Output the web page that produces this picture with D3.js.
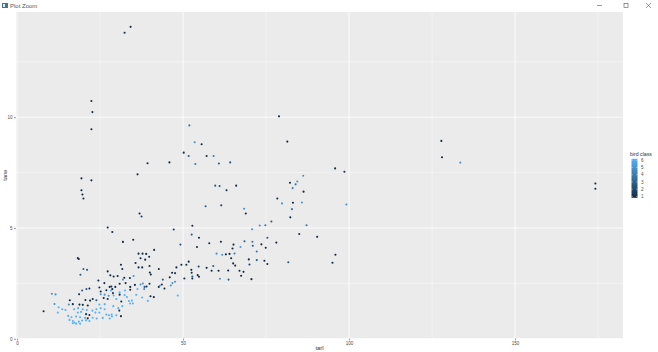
<!DOCTYPE html>
<html>
<head>
<meta charset="utf-8">
<script src="https://cdn.jsdelivr.net/npm/d3@7"></script>
<style>
  body { margin: 0; background: #fff; }
  text { font-family: "Liberation Sans", Arial, sans-serif; }
</style>
</head>
<body>
<script>
// tarsus length / width per bird, plus its class
const tarl = [
  32.4,34.2,51.9,78.9,127.8,128.0,133.5,174.2,174.2,22.4,22.7,22.4,19.4,19.4,19.7,20.0,22.4,
  53.5,55.6,81.4,50.2,51.7,57.1,59.2,45.9,53.7,60.8,
  64.2,95.8,98.6,86.2,82.2,84.4,83.9,83.0,86.3,59.7,
  61.0,66.0,63.1,78.4,79.8,83.1,85.8,99.2,56.8,61.5,
  68.4,82.8,68.9,82.3,76.6,73.1,74.8,87.2,52.8,47.2,
  70.8,85.0,52.6,54.8,90.4,75.4,61.4,68.5,70.9,57.9,
  78.1,65.2,73.6,71.0,49.2,54.2,74.9,64.9,41.3,67.3,
  72.2,60.1,61.8,62.9,64.0,65.5,95.9,64.5,69.8,72.2,
  74.5,51.7,95.0,81.7,65.1,75.4,49.5,51.0,70.0,65.7,
  48.0,42.7,59.1,54.7,57.1,
  58.6,60.7,63.6,67.0,68.2,52.5,52.6,54.4,54.8,52.8,
  67.5,61.1,63.7,70.6,
  28.7,27.3,31.9,35.0,36.6,37.8,38.9,37.2,39.8,35.7,
  31.3,36.6,37.7,31.7,40.0,40.3,46.7,47.6,29.1,30.3,
  32.3,31.9,34.0,35.1,46.0,43.9,50.4,52.8,27.9,29.6,
  30.9,32.7,34.1,35.5,37.2,37.9,38.4,39.9,39.0,34.1,
  32.5,30.9,36.3,38.3,42.7,43.6,44.4,43.0,46.8,47.6,
  46.3,48.4,28.3,29.1,30.9,32.4,33.1,35.9,37.7,39.4,
  40.2,41.2,29.9,31.4,33.7,34.6,34.1,34.9,29.0,31.7,
  30.5,30.8,28.5,29.9,31.3,27.9,
  18.3,18.6,20.0,21.1,19.1,27.3,28.1,24.5,26.3,28.4,
  28.7,21.8,20.9,19.6,24.8,25.2,26.9,25.2,26.4,27.6,
  28.9,10.5,11.6,18.7,15.9,20.6,22.0,22.8,23.9,26.1,
  27.3,11.3,15.6,16.8,18.8,19.8,21.3,24.8,26.4,12.5,
  13.6,14.6,17.2,18.4,19.8,21.0,22.7,23.9,25.2,26.4,
  8.0,12.3,18.3,19.3,20.8,21.8,23.6,24.8,26.9,27.7,
  15.4,16.4,17.8,19.0,20.5,21.3,22.8,24.0,25.8,28.6,
  15.8,16.8,17.3,18.6,19.6,20.8,21.8,17.8,16.8,19.0,
  39.3,36.3,36.9,37.5,38.6,39.9
]
const tarw = [
  13.81,14.08,9.63,10.04,8.93,8.19,7.95,7.01,6.77,10.73,10.23,9.46,7.24,6.70,6.51,6.33,7.15,
  8.87,8.78,8.90,8.40,8.25,8.25,8.25,7.96,7.89,7.91,
  7.96,7.69,7.54,7.36,7.04,7.10,6.97,6.80,6.64,6.91,
  6.89,6.91,6.70,6.33,6.11,6.14,6.15,6.06,5.98,6.02,
  5.87,5.85,5.65,5.48,5.29,5.11,5.12,5.12,5.10,4.93,
  4.94,4.73,4.70,4.56,4.60,4.56,4.38,4.40,4.38,4.31,
  4.34,4.25,4.26,4.20,4.25,4.14,4.11,4.07,4.01,4.14,
  3.94,3.84,3.79,3.81,3.83,3.85,3.79,3.63,3.58,3.55,
  3.52,3.48,3.43,3.45,3.40,3.37,3.34,3.34,3.35,3.30,
  3.22,3.15,3.28,3.26,3.20,
  3.07,3.07,3.08,3.07,3.02,3.11,2.98,2.87,2.80,2.81,
  2.84,2.71,2.67,2.69,
  4.82,5.02,4.37,4.47,3.84,3.84,3.83,3.63,3.70,3.42,
  3.34,3.22,3.22,3.15,2.99,2.90,2.98,2.96,2.81,2.83,
  2.75,2.67,2.74,2.83,2.77,2.67,2.72,2.72,2.34,2.34,
  2.48,2.51,2.34,2.43,2.45,2.49,2.34,2.48,2.36,2.21,
  2.18,2.10,2.24,2.24,2.34,2.45,2.27,2.39,2.51,2.57,
  2.40,1.95,2.18,1.95,1.99,1.97,1.88,1.98,1.86,1.71,
  1.92,1.88,1.79,1.68,1.70,1.72,1.59,1.59,1.47,1.47,
  1.38,1.27,1.09,1.06,1.02,0.91,
  3.64,3.60,3.15,3.11,2.89,3.04,2.86,2.63,2.51,2.36,
  2.24,2.27,2.24,2.18,2.31,2.13,2.19,2.01,1.99,1.94,
  2.06,2.03,2.00,2.01,1.74,1.75,1.72,1.79,1.74,1.84,
  1.79,1.57,1.54,1.56,1.54,1.53,1.50,1.54,1.56,1.42,
  1.33,1.30,1.33,1.38,1.33,1.30,1.27,1.33,1.38,1.33,
  1.24,1.18,1.18,1.21,1.11,1.07,1.18,1.18,1.09,1.06,
  1.03,0.97,1.00,0.97,0.94,0.92,0.95,0.91,0.94,1.00,
  0.85,0.80,0.73,0.77,0.82,0.83,0.80,0.68,0.70,0.68,
  7.92,7.42,5.65,5.52,3.57,3.28
]
const birdClass = [
  1,1,4,1,1,1,5,1,1,1,1,1,1,1,1,1,1,
  5,1,1,1,3,1,4,1,4,3,
  3,1,1,5,1,5,4,4,1,3,
  3,1,1,1,5,1,5,5,3,2,
  5,4,1,1,3,5,4,4,1,2,
  5,1,3,1,1,3,1,3,4,1,
  1,1,1,3,3,1,1,1,1,5,
  4,5,5,1,1,4,1,1,1,3,
  1,1,1,3,1,1,1,1,2,1,
  1,1,3,2,1,
  1,1,1,1,1,1,1,1,1,3,
  1,5,3,1,
  1,1,1,1,1,1,1,1,1,1,
  1,1,1,1,1,1,1,2,1,1,
  1,5,1,5,1,3,1,1,1,1,
  1,1,1,1,5,5,3,1,1,1,
  6,6,6,5,1,1,1,5,5,5,
  5,6,6,6,1,6,6,6,6,6,
  1,1,6,1,6,6,6,6,6,6,
  6,1,6,6,1,6,
  1,1,3,3,3,1,1,1,1,1,
  1,1,3,3,1,1,1,5,5,5,
  1,5,5,1,1,1,1,1,3,1,
  1,5,5,1,1,1,1,6,6,6,
  6,6,6,6,6,6,6,6,6,6,
  1,6,6,6,1,1,6,6,6,6,
  6,6,6,6,6,1,6,6,6,6,
  6,6,6,6,6,6,6,6,6,6,
  1,1,1,2,1,1
]
const xTicks = [0, 50, 100, 150]
const xMinor = [25, 75, 125, 175]
const yTicks = [0, 5, 10]
const yMinor = [2.5, 7.5, 12.5]
const classTicks = [1, 2, 3, 4, 5, 6]

const width = 658
const height = 352
const panel = {left: 16, right: 623, top: 12, bottom: 338.5}

const svg = d3.select('body').append('svg')
  .attr('width', width)
  .attr('height', height)

// window title bar (RStudio plot zoom)
const bar = svg.append('g')
bar.append('rect').attr('x', 2).attr('y', 3).attr('width', 6).attr('height', 5)
  .attr('fill', '#3b7a8c')
bar.append('rect').attr('x', 3).attr('y', 4).attr('width', 2).attr('height', 3)
  .attr('fill', '#e8e8e8')
bar.append('text').attr('x', 10).attr('y', 8).attr('font-size', 6)
  .attr('fill', '#555').text('Plot Zoom')
bar.append('line').attr('x1', 597).attr('x2', 602).attr('y1', 5.5).attr('y2', 5.5)
  .attr('stroke', '#555').attr('stroke-width', 0.6)
bar.append('rect').attr('x', 624).attr('y', 3.5).attr('width', 4).attr('height', 4)
  .attr('fill', 'none').attr('stroke', '#555').attr('stroke-width', 0.6)
bar.append('path').attr('d', 'M646,3 L651,8 M651,3 L646,8')
  .attr('stroke', '#555').attr('stroke-width', 0.6)

// scales with ggplot's 5% expansion
const pad = (ext) => { const r = ext[1] - ext[0]; return [ext[0] - r * 0.05, ext[1] + r * 0.05] }
const xscale = d3.scaleLinear().domain(pad(d3.extent(tarl))).range([panel.left, panel.right])
const yscale = d3.scaleLinear().domain(pad(d3.extent(tarw))).range([panel.bottom, panel.top])
const colour = d3.scaleLinear().domain([1, 6]).range(['#132B43', '#56B1F7'])
  .interpolate(d3.interpolateLab)

// panel and grid
svg.append('rect')
  .attr('x', panel.left).attr('y', panel.top)
  .attr('width', panel.right - panel.left).attr('height', panel.bottom - panel.top)
  .attr('fill', '#EBEBEB')

const grid = svg.append('g').attr('stroke', '#fff')
grid.selectAll('.xm').data(xMinor.filter(d => xscale(d) < panel.right)).join('line')
  .attr('x1', d => xscale(d)).attr('x2', d => xscale(d))
  .attr('y1', panel.top).attr('y2', panel.bottom).attr('stroke-width', 0.4)
grid.selectAll('.ym').data(yMinor).join('line')
  .attr('y1', d => yscale(d)).attr('y2', d => yscale(d))
  .attr('x1', panel.left).attr('x2', panel.right).attr('stroke-width', 0.4)
grid.selectAll('.xM').data(xTicks).join('line')
  .attr('x1', d => xscale(d)).attr('x2', d => xscale(d))
  .attr('y1', panel.top).attr('y2', panel.bottom).attr('stroke-width', 0.8)
grid.selectAll('.yM').data(yTicks).join('line')
  .attr('y1', d => yscale(d)).attr('y2', d => yscale(d))
  .attr('x1', panel.left).attr('x2', panel.right).attr('stroke-width', 0.8)

// axes
const styleAxis = (g) => {
  g.select('.domain').remove()
  g.selectAll('.tick line').attr('stroke', '#333').attr('stroke-width', 0.5)
  g.selectAll('.tick text').attr('fill', '#4D4D4D').attr('font-size', 4.6)
    .attr('font-family', '"Liberation Sans", Arial, sans-serif')
}
svg.append('g').attr('transform', `translate(0,${panel.bottom})`)
  .call(d3.axisBottom(xscale).tickValues(xTicks).tickSize(2).tickPadding(1.5))
  .call(styleAxis)
svg.append('g').attr('transform', `translate(${panel.left},0)`)
  .call(d3.axisLeft(yscale).tickValues(yTicks).tickSize(2).tickPadding(1.5))
  .call(styleAxis)

svg.append('text').attr('x', (panel.left + panel.right) / 2).attr('y', 350)
  .attr('text-anchor', 'middle').attr('font-size', 5.8).attr('fill', '#333').text('tarl')
svg.append('text').attr('transform', `translate(7,${(panel.top + panel.bottom) / 2}) rotate(-90)`)
  .attr('text-anchor', 'middle').attr('font-size', 5.8).attr('fill', '#333').text('tarw')

// points
svg.append('g').selectAll('circle').data(d3.range(tarl.length)).join('circle')
  .attr('cx', i => xscale(tarl[i]))
  .attr('cy', i => yscale(tarw[i]))
  .attr('r', 1.05)
  .attr('fill', i => colour(birdClass[i]))

// colourbar legend
const legY = d3.scaleLinear().domain([1, 6]).range([196.5, 160.2])
const grad = svg.append('defs').append('linearGradient').attr('id', 'cbar')
  .attr('x1', 0).attr('x2', 0).attr('y1', 1).attr('y2', 0)
grad.selectAll('stop').data([1, 6]).join('stop')
  .attr('offset', (d, i) => i)
  .attr('stop-color', d => colour(d))
const leg = svg.append('g')
leg.append('text').attr('x', 630).attr('y', 155.5).attr('font-size', 5.2)
  .attr('fill', '#333').text('bird class')
leg.append('rect').attr('x', 631.5).attr('y', 158.8).attr('width', 6).attr('height', 39)
  .attr('fill', 'url(#cbar)')
leg.selectAll('.tl').data(classTicks).join('path')
  .attr('d', d => `M631.5,${legY(d)}h1.2M636.3,${legY(d)}h1.2`)
  .attr('stroke', '#fff').attr('stroke-width', 0.5)
leg.selectAll('.lab').data(classTicks).join('text')
  .attr('x', 641).attr('y', d => legY(d) + 1.6)
  .attr('font-size', 4.6).attr('fill', '#4D4D4D').text(d => d)
</script>
</body>
</html>
